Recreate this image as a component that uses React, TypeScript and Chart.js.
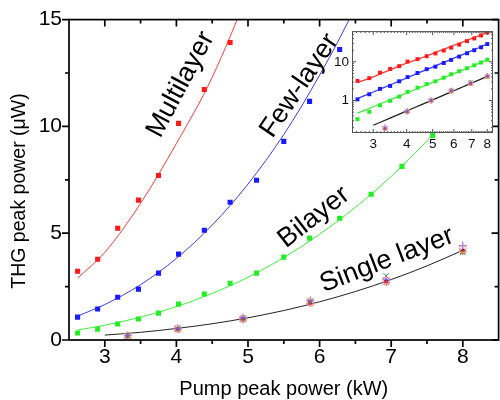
import React, { useEffect, useRef } from 'react';
import { Chart, registerables } from 'chart.js';
Chart.register(...registerables);

const FONT = '"Liberation Sans", Arial, Helvetica, sans-serif';

// Measured THG peak power (µW) vs pump peak power (kW)
const X_MEAS = [2.62, 2.9, 3.18, 3.47, 3.75, 4.03, 4.39, 4.75, 5.12, 5.5, 5.86, 6.28, 6.72, 7.15, 7.58, 8.0];
const MULTI = [3.22, 3.78, 5.23, 6.55, 7.7, 10.14, 11.73, 13.93, 16.4, 19.5, 23.2, 27.7, 34.2, 40.1, 47.8, 57];
const FEW = [1.07, 1.45, 2.0, 2.38, 3.13, 4.02, 5.14, 6.45, 7.48, 9.3, 11.17, 13.6, 16.6, 19.9, 23.7, 28.7];
const BI = [0.33, 0.51, 0.75, 0.98, 1.26, 1.68, 2.15, 2.66, 3.13, 3.88, 4.77, 5.7, 6.82, 8.13, 9.58, 11.3];

const X_SINGLE = [3.32, 4.02, 4.93, 5.87, 6.93, 8.0];
const SINGLE_SQ = [0.19, 0.52, 1.0, 1.78, 2.78, 4.25];
const SINGLE_X = [0.2, 0.53, 1.02, 1.82, 3.0, 4.1];
const SINGLE_PLUS = [0.21, 0.55, 1.05, 1.85, 2.85, 4.42];
const SINGLE_STAR = [0.19, 0.5, 0.95, 1.72, 2.7, 4.15];
const SINGLE_DOT = [0.19, 0.52, 0.98, 1.76, 2.78, 4.2];

// Fit curves
const X_FIT = [2.62, 3, 3.5, 4, 4.5, 5, 5.5, 6, 6.5, 7, 7.5, 8];
const FIT_MULTI = [2.9, 4.1, 6.4, 9.2, 12.3, 16.3, 21.0, 26.5, 32.8, 40.0, 48.1, 57];
const FIT_FEW = [1.12, 1.66, 2.59, 3.82, 5.38, 7.3, 9.62, 12.4, 15.6, 19.4, 23.7, 28.7];
const FIT_BI = [0.47, 0.69, 1.07, 1.56, 2.18, 2.94, 3.86, 4.95, 6.21, 7.66, 9.33, 11.2];
const X_FIT_SINGLE = [3, 3.5, 4, 4.5, 5, 5.5, 6, 6.5, 7, 7.5, 8];
const FIT_SINGLE = [0.23, 0.36, 0.54, 0.76, 1.04, 1.38, 1.79, 2.27, 2.83, 3.47, 4.2];

// Ticks
const X_TICKS = [3, 4, 5, 6, 7, 8];
const X_MINOR = [3.5, 4.5, 5.5, 6.5, 7.5];
const Y_TICKS = [0, 5, 10, 15];
const Y_MINOR = [2.5, 7.5, 12.5];
const INSET_X_TICKS = [3, 4, 5, 6, 7, 8];
const INSET_Y_TICKS = [1, 10];
const INSET_Y_MINOR = [0.2, 0.3, 0.4, 0.5, 0.6, 0.7, 0.8, 0.9, 2, 3, 4, 5, 6, 7, 8, 9, 20, 30, 40, 50, 60];

// Curve labels (anchored in data coordinates)
const LABELS = [
  { text: 'Multilayer', x: 4.06, y: 11.96, angle: -62 },
  { text: 'Few-layer', x: 5.72, y: 11.9, angle: -56 },
  { text: 'Bilayer', x: 5.92, y: 5.75, angle: -38 },
  { text: 'Single layer', x: 6.94, y: 3.74, angle: -21 },
];

const RED = '#ff1a1a';
const BLUE = '#1a1aff';
const GREEN = '#22ee22';

const pts = (xs: number[], ys: number[]) => xs.map((x, i) => ({ x, y: ys[i] }));

function buildDatasets(inset: boolean): any[] {
  const sq = inset ? 2.8 : 3.6;
  const sm = inset ? 2.6 : 4;
  const lw = inset ? 1.3 : 1;
  const fit = (xs: number[], ys: number[], color: string) => ({
    data: pts(xs, ys), borderColor: color, borderWidth: lw, pointRadius: 0,
    showLine: true, cubicInterpolationMode: 'monotone', fill: false, order: 1,
  });
  const mark = (xs: number[], ys: number[], color: string, style: string, radius: number, hollow = false, bw = 0) => ({
    data: pts(xs, ys), showLine: false, pointStyle: style, pointRadius: radius,
    pointBackgroundColor: hollow ? 'rgba(0,0,0,0)' : color, pointBorderColor: color,
    pointBorderWidth: bw, order: 0,
  });
  return [
    mark(X_MEAS, MULTI, RED, 'rect', sq),
    mark(X_MEAS, FEW, BLUE, 'rect', sq),
    mark(X_MEAS, BI, GREEN, 'rect', sq),
    mark(X_SINGLE, SINGLE_SQ, '#f59a9a', 'rect', sm * 1.1, true, 1),
    mark(X_SINGLE, SINGLE_PLUS, '#7a5cff', 'cross', sm, false, 1),
    mark(X_SINGLE, SINGLE_X, '#2aa02a', 'crossRot', sm, false, 1),
    mark(X_SINGLE, SINGLE_STAR, '#e02020', 'star', sm * 0.9, false, 1),
    mark(X_SINGLE, SINGLE_DOT, '#300', 'circle', inset ? 1 : 1.5, false, 0),
    fit(X_FIT, FIT_MULTI, '#ff3a3a'),
    fit(X_FIT, FIT_FEW, '#3a3aff'),
    fit(X_FIT, FIT_BI, '#3af03a'),
    fit(X_FIT_SINGLE, FIT_SINGLE, '#222'),
  ];
}

const mainDecor = {
  id: 'mainDecor',
  afterDraw(chart: any) {
    const { ctx, chartArea: a, scales } = chart;
    const xs = scales.x, ys = scales.y;
    ctx.save();
    ctx.strokeStyle = '#000';
    ctx.lineWidth = 1.7;
    ctx.strokeRect(a.left, a.top, a.right - a.left, a.bottom - a.top);
    ctx.beginPath();
    const xt = (v: number, len: number) => {
      const p = xs.getPixelForValue(v);
      ctx.moveTo(p, a.bottom); ctx.lineTo(p, a.bottom + len);
      ctx.moveTo(p, a.top); ctx.lineTo(p, a.top + len);
    };
    const yt = (v: number, len: number) => {
      const p = ys.getPixelForValue(v);
      ctx.moveTo(a.left - len, p); ctx.lineTo(a.left, p);
      ctx.moveTo(a.right - len, p); ctx.lineTo(a.right, p);
    };
    X_TICKS.forEach((v) => xt(v, 7));
    X_MINOR.forEach((v) => xt(v, 4));
    Y_TICKS.forEach((v) => yt(v, 7));
    Y_MINOR.forEach((v) => yt(v, 4));
    ctx.stroke();

    ctx.fillStyle = '#000';
    ctx.textAlign = 'center';
    ctx.textBaseline = 'middle';
    ctx.font = `27px ${FONT}`;
    LABELS.forEach((l) => {
      ctx.save();
      ctx.translate(xs.getPixelForValue(l.x), ys.getPixelForValue(l.y));
      ctx.rotate((l.angle * Math.PI) / 180);
      ctx.fillText(l.text, 0, 0);
      ctx.restore();
    });

    ctx.font = `20px ${FONT}`;
    ctx.fillText('Pump peak power (kW)', (a.left + a.right) / 2, 389);
    ctx.font = `19.5px ${FONT}`;
    ctx.save();
    ctx.translate(20, 191);
    ctx.rotate(-Math.PI / 2);
    ctx.fillText('THG peak power (\u03bcW)', 0, 0);
    ctx.restore();
    ctx.restore();
  },
};

const insetDecor = {
  id: 'insetDecor',
  beforeDraw(chart: any) {
    const { ctx, chartArea: a } = chart;
    ctx.save();
    ctx.fillStyle = '#fff';
    ctx.fillRect(a.left, a.top, a.right - a.left, a.bottom - a.top);
    ctx.restore();
  },
  afterDraw(chart: any) {
    const { ctx, chartArea: a, scales } = chart;
    const xs = scales.x, ys = scales.y;
    ctx.save();
    ctx.strokeStyle = '#555';
    ctx.lineWidth = 1;
    ctx.strokeRect(a.left + 0.5, a.top + 0.5, a.right - a.left - 1, a.bottom - a.top - 1);
    ctx.beginPath();
    const xt = (v: number, len: number) => {
      const p = xs.getPixelForValue(v);
      ctx.moveTo(p, a.bottom); ctx.lineTo(p, a.bottom - len);
      ctx.moveTo(p, a.top); ctx.lineTo(p, a.top + len);
    };
    const yt = (v: number, len: number) => {
      const p = ys.getPixelForValue(v);
      ctx.moveTo(a.left, p); ctx.lineTo(a.left + len, p);
      ctx.moveTo(a.right, p); ctx.lineTo(a.right - len, p);
    };
    INSET_X_TICKS.forEach((v) => xt(v, 4));
    for (let k = 26; k <= 83; k++) if (k % 10 !== 0) xt(k / 10, 2);
    INSET_Y_TICKS.forEach((v) => yt(v, 4));
    INSET_Y_MINOR.forEach((v) => yt(v, 2));
    ctx.stroke();
    ctx.restore();
  },
};

export default function App() {
  const mainRef = useRef<HTMLCanvasElement>(null);
  const insetRef = useRef<HTMLCanvasElement>(null);

  useEffect(() => {
    const main = new Chart(mainRef.current as HTMLCanvasElement, {
      type: 'line',
      data: { datasets: buildDatasets(false) },
      options: {
        animation: false,
        responsive: false,
        devicePixelRatio: 1,
        layout: { padding: { left: 0, top: 19, right: 3, bottom: 0 } },
        plugins: { legend: { display: false }, tooltip: { enabled: false } },
        scales: {
          x: {
            type: 'linear', min: 2.5, max: 8.5,
            grid: { display: false, drawTicks: false, tickLength: 0 }, border: { display: false },
            ticks: { color: '#000', font: { size: 21, family: FONT }, padding: 5, maxRotation: 0, autoSkip: false },
            afterBuildTicks: (s: any) => { s.ticks = X_TICKS.map((v) => ({ value: v })); },
            afterFit: (s: any) => { s.height = 60; },
          },
          y: {
            type: 'linear', min: 0, max: 15,
            grid: { display: false, drawTicks: false, tickLength: 0 }, border: { display: false },
            ticks: { color: '#000', font: { size: 21, family: FONT }, padding: 7, autoSkip: false },
            afterBuildTicks: (s: any) => { s.ticks = Y_TICKS.map((v) => ({ value: v })); },
            afterFit: (s: any) => { s.width = 69; },
          },
        },
      } as any,
      plugins: [mainDecor],
    });

    const inset = new Chart(insetRef.current as HTMLCanvasElement, {
      type: 'line',
      data: { datasets: buildDatasets(true) },
      options: {
        animation: false,
        responsive: false,
        devicePixelRatio: 1,
        layout: { padding: { left: 0, top: 9.5, right: 7, bottom: 0 } },
        plugins: { legend: { display: false }, tooltip: { enabled: false } },
        scales: {
          x: {
            type: 'logarithmic', min: 2.5, max: 8.4,
            grid: { display: false, drawTicks: false, tickLength: 0 }, border: { display: false },
            ticks: { color: '#111', font: { size: 13.5, family: FONT }, padding: 3, maxRotation: 0, autoSkip: false, callback: (v: any) => String(v) },
            afterBuildTicks: (s: any) => { s.ticks = INSET_X_TICKS.map((v) => ({ value: v })); },
            afterFit: (s: any) => { s.height = 22; },
          },
          y: {
            type: 'logarithmic', min: 0.145, max: 62,
            grid: { display: false, drawTicks: false, tickLength: 0 }, border: { display: false },
            ticks: { color: '#111', font: { size: 13.5, family: FONT }, padding: 3, autoSkip: false, callback: (v: any) => String(v) },
            afterBuildTicks: (s: any) => { s.ticks = INSET_Y_TICKS.map((v) => ({ value: v })); },
            afterFit: (s: any) => { s.width = 22; },
          },
        },
      } as any,
      plugins: [insetDecor],
    });

    return () => { main.destroy(); inset.destroy(); };
  }, []);

  return (
    <div style={{ position: 'fixed', left: 0, top: 0, width: 500, height: 400, overflow: 'hidden', background: '#fff' }}>
      <canvas ref={mainRef} width={504} height={400} style={{ position: 'absolute', left: 0, top: 0, width: 504, height: 400 }} />
      <canvas ref={insetRef} width={170} height={135} style={{ position: 'absolute', left: 330, top: 20, width: 170, height: 135 }} />
    </div>
  );
}
